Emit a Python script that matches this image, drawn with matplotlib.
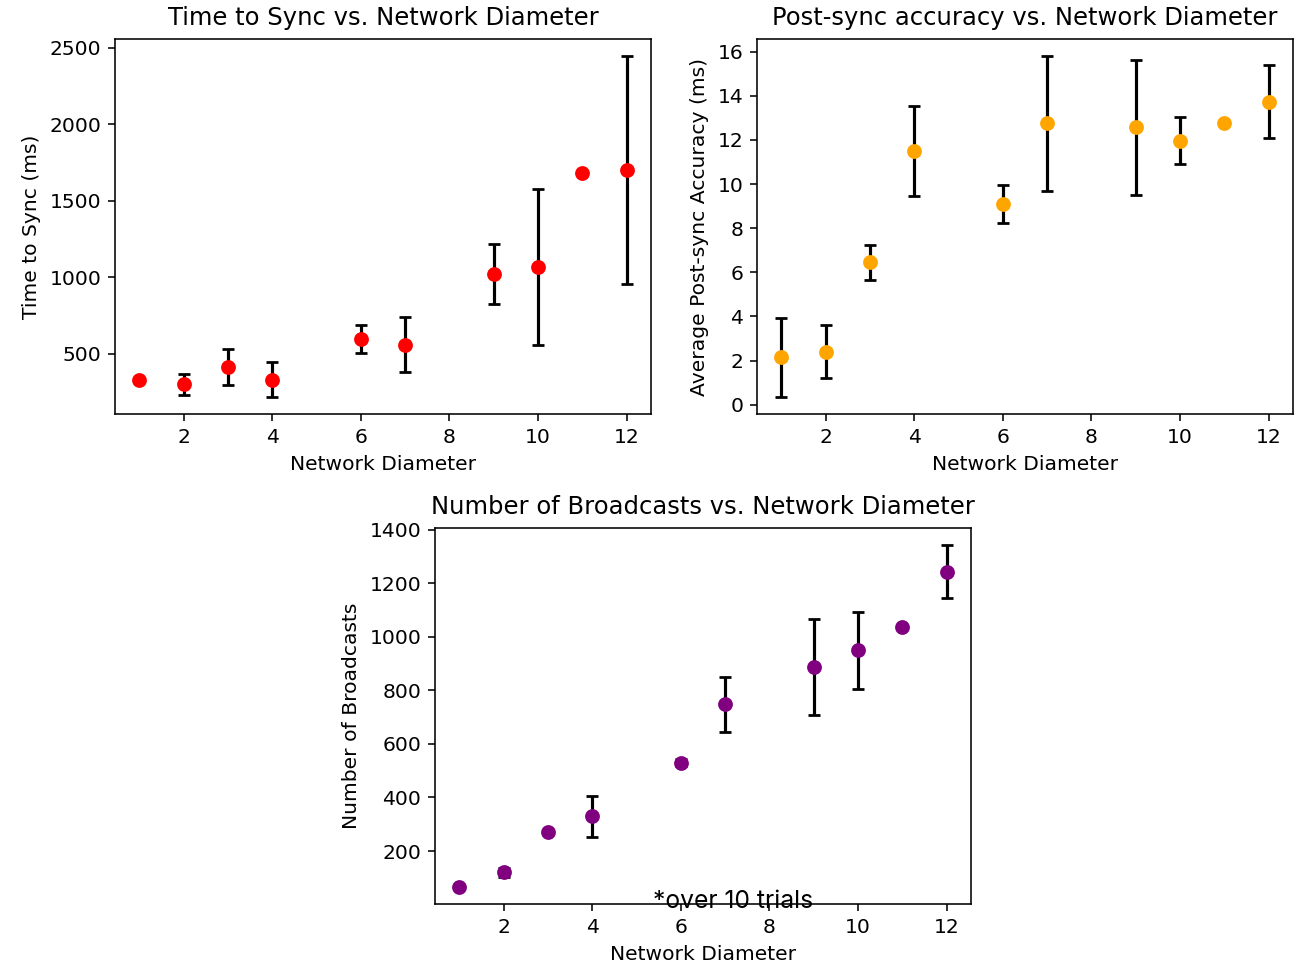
import matplotlib
matplotlib.use("Agg")
import matplotlib.pyplot as plt

diameter = [1, 2, 3, 4, 6, 7, 9, 10, 11, 12]

sync_time = [331, 300, 412, 331, 597, 558, 1020, 1068, 1680, 1700]
sync_time_err = [0, 68, 117, 113, 90, 180, 198, 510, 0, 745]

accuracy = [2.15, 2.40, 6.46, 11.50, 9.10, 12.75, 12.57, 11.97, 12.77, 13.73]
accuracy_err = [1.8, 1.2, 0.79, 2.05, 0.87, 3.05, 3.07, 1.05, 0, 1.65]

broadcasts = [66, 120, 271, 330, 530, 747, 887, 950, 1037, 1243]
broadcasts_err = [0, 18, 0, 76, 12, 102, 178, 144, 0, 99]

DPI = 142
plt.rcParams['font.size'] = 10.3
fig = plt.figure(figsize=(1301 / DPI, 966 / DPI), dpi=DPI)
W, H = 1301, 966

def box(l, t, r, b):
    return [l / W, 1 - b / H, (r - l) / W, (b - t) / H]

ax1 = fig.add_axes(box(115, 39, 651, 414))
ax2 = fig.add_axes(box(757, 39, 1293, 414))
ax3 = fig.add_axes(box(435, 528, 971, 904))

style = dict(fmt='o', ecolor='black', capsize=3, elinewidth=1.6, capthick=1.4, markersize=6.5)

ax1.errorbar(diameter, sync_time, yerr=sync_time_err, color='red', **style)
ax1.set_title("Time to Sync vs. Network Diameter", fontsize=12.3, pad=7)
ax1.set_xlabel("Network Diameter")
ax1.set_ylabel("Time to Sync (ms)")

ax2.errorbar(diameter, accuracy, yerr=accuracy_err, color='orange', **style)
ax2.set_title("Post-sync accuracy vs. Network Diameter", fontsize=12.3, pad=7)
ax2.set_xlabel("Network Diameter")
ax2.set_ylabel("Average Post-sync Accuracy (ms)")

ax3.errorbar(diameter, broadcasts, yerr=broadcasts_err, color='purple', **style)
ax3.set_title("Number of Broadcasts vs. Network Diameter", fontsize=12.3, pad=7)
ax3.set_xlabel("Network Diameter")
ax3.set_ylabel("Number of Broadcasts")

fig.text(733 / W, 1 - 901 / H, "*over 10 trials", family=["Inter", "DejaVu Sans"],
         fontsize=12.5, ha='center', va='center', color='black', zorder=10)

fig.savefig("out.png", dpi=DPI)
